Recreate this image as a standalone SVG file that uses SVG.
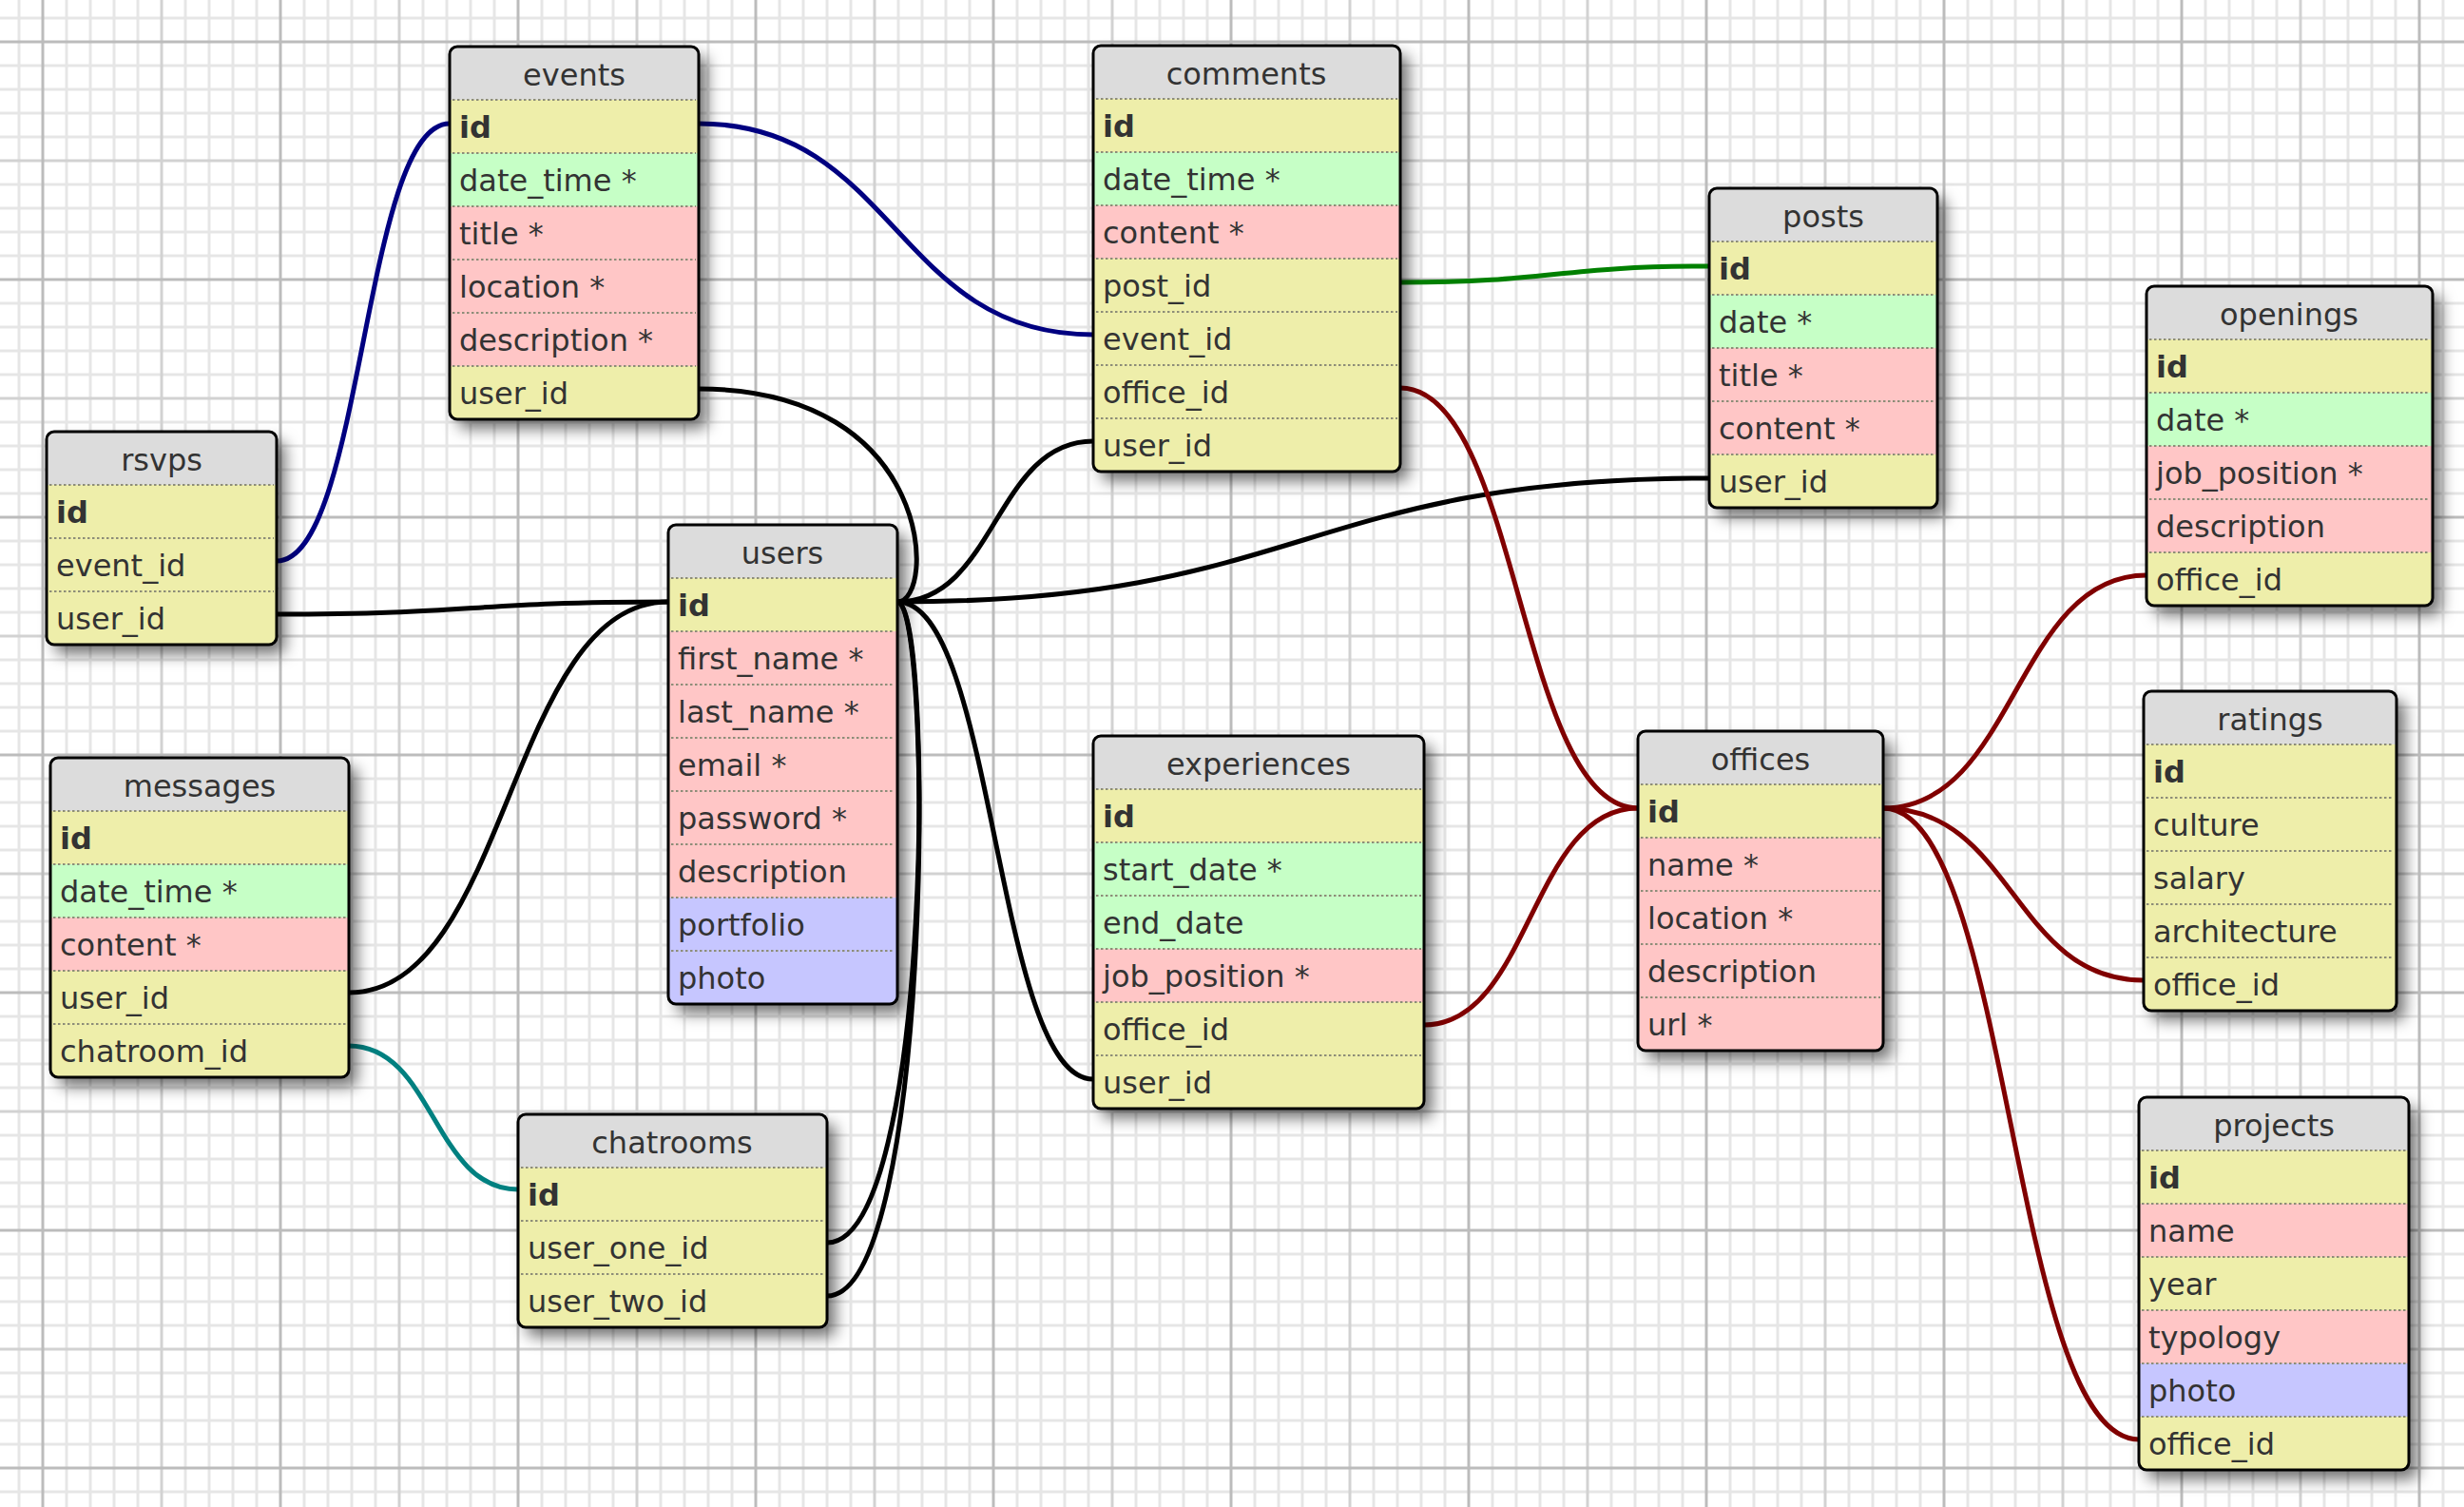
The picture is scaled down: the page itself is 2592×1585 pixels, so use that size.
<svg xmlns="http://www.w3.org/2000/svg" width="2592" height="1585" viewBox="0 0 2592 1585">
<style>
text{font-family:"DejaVu Sans",Verdana,sans-serif;font-size:32px;fill:#333}
.h{text-anchor:middle}
.k{font-weight:bold}
.hd{fill:#dcdcdc}.y{fill:#eeeeaa}.g{fill:#c6ffc6}.r{fill:#ffc6c6}.b{fill:#c6c6ff}
.d{stroke:#8d8d78;stroke-width:2;stroke-dasharray:2.5 2.5}
.o{fill:none;stroke:#000;stroke-width:3}
.s{fill:#fff;filter:url(#sh)}
.c{fill:none;stroke-width:5}
.navy{stroke:#000080}.blk{stroke:#000}.grn{stroke:#008000}.red{stroke:#800000}.teal{stroke:#008080}
</style>
<defs>
<filter id="sh" x="-20%" y="-20%" width="150%" height="150%"><feDropShadow dx="9" dy="10" stdDeviation="8" flood-color="#000" flood-opacity="0.55"/></filter>
<pattern id="grid" patternUnits="userSpaceOnUse" x="32.5" y="31.5" width="250" height="250">
<path d="M37.5 0V250M62.5 0V250M87.5 0V250M112.5 0V250M162.5 0V250M187.5 0V250M212.5 0V250M237.5 0V250M0 37.5H250M0 62.5H250M0 87.5H250M0 112.5H250M0 162.5H250M0 187.5H250M0 212.5H250M0 237.5H250" stroke="#e6e6e6" stroke-width="3" fill="none"/>
<path d="M137.5 0V250M0 137.5H250" stroke="#d2d2d2" stroke-width="3" fill="none"/>
<path d="M12.5 0V250M0 12.5H250" stroke="#bcbcbc" stroke-width="3" fill="none"/>
</pattern>
</defs>
<rect width="2592" height="1585" fill="#fff"/>
<rect width="2592" height="1585" fill="url(#grid)"/>
<g id="connectors">
<path class="c navy" d="M291 590C382 590 382 130 473 130"/>
<path class="c navy" d="M735 130C942 130 942 352 1150 352"/>
<path class="c blk" d="M735 409C985 409 985 633 944 633"/>
<path class="c blk" d="M291 646C497 646 497 633 703 633"/>
<path class="c blk" d="M367 1044C535 1044 535 633 703 633"/>
<path class="c blk" d="M870 1307C982 1307 982 633 944 633"/>
<path class="c blk" d="M870 1363C982 1363 982 633 944 633"/>
<path class="c blk" d="M944 633C1047 633 1047 464 1150 464"/>
<path class="c blk" d="M944 633C1371 633 1371 503 1798 503"/>
<path class="c blk" d="M944 633C1047 633 1047 1135 1150 1135"/>
<path class="c teal" d="M367 1100C456 1100 456 1251 545 1251"/>
<path class="c grn" d="M1473 297C1635 297 1635 280 1798 280"/>
<path class="c red" d="M1473 408C1598 408 1598 850 1723 850"/>
<path class="c red" d="M1498 1078C1610 1078 1610 850 1723 850"/>
<path class="c red" d="M1981 850C2120 850 2120 605 2258 605"/>
<path class="c red" d="M1981 850C2118 850 2118 1031 2255 1031"/>
<path class="c red" d="M1981 850C2115 850 2115 1514 2250 1514"/>
</g>
<g id="rsvps" transform="translate(49,454)">
<rect class="s" width="242" height="224" rx="8"/>
<path class="hd" d="M0 56V8a8 8 0 0 1 8-8H234a8 8 0 0 1 8 8V56Z"/>
<rect class="y" y="56" width="242" height="56"/><rect class="y" y="112" width="242" height="56"/>
<path class="y" d="M0 168H242V216a8 8 0 0 1-8 8H8a8 8 0 0 1-8-8Z"/>
<path class="d" d="M3 56H239M3 112H239M3 168H239"/>
<rect class="o" width="242" height="224" rx="8"/>
<text class="h" x="121" y="41">rsvps</text><text class="k" x="10" y="96">id</text><text x="10" y="152">event_id</text><text x="10" y="208">user_id</text>
</g>
<g id="events" transform="translate(473,49)">
<rect class="s" width="262" height="392" rx="8"/>
<path class="hd" d="M0 56V8a8 8 0 0 1 8-8H254a8 8 0 0 1 8 8V56Z"/>
<rect class="y" y="56" width="262" height="56"/><rect class="g" y="112" width="262" height="56"/><rect class="r" y="168" width="262" height="56"/><rect class="r" y="224" width="262" height="56"/><rect class="r" y="280" width="262" height="56"/>
<path class="y" d="M0 336H262V384a8 8 0 0 1-8 8H8a8 8 0 0 1-8-8Z"/>
<path class="d" d="M3 56H259M3 112H259M3 168H259M3 224H259M3 280H259M3 336H259"/>
<rect class="o" width="262" height="392" rx="8"/>
<text class="h" x="131" y="41">events</text><text class="k" x="10" y="96">id</text><text x="10" y="152">date_time *</text><text x="10" y="208">title *</text><text x="10" y="264">location *</text><text x="10" y="320">description *</text><text x="10" y="376">user_id</text>
</g>
<g id="users" transform="translate(703,552)">
<rect class="s" width="241" height="504" rx="8"/>
<path class="hd" d="M0 56V8a8 8 0 0 1 8-8H233a8 8 0 0 1 8 8V56Z"/>
<rect class="y" y="56" width="241" height="56"/><rect class="r" y="112" width="241" height="56"/><rect class="r" y="168" width="241" height="56"/><rect class="r" y="224" width="241" height="56"/><rect class="r" y="280" width="241" height="56"/><rect class="r" y="336" width="241" height="56"/><rect class="b" y="392" width="241" height="56"/>
<path class="b" d="M0 448H241V496a8 8 0 0 1-8 8H8a8 8 0 0 1-8-8Z"/>
<path class="d" d="M3 56H238M3 112H238M3 168H238M3 224H238M3 280H238M3 336H238M3 392H238M3 448H238"/>
<rect class="o" width="241" height="504" rx="8"/>
<text class="h" x="120" y="41">users</text><text class="k" x="10" y="96">id</text><text x="10" y="152">first_name *</text><text x="10" y="208">last_name *</text><text x="10" y="264">email *</text><text x="10" y="320">password *</text><text x="10" y="376">description</text><text x="10" y="432">portfolio</text><text x="10" y="488">photo</text>
</g>
<g id="messages" transform="translate(53,797)">
<rect class="s" width="314" height="336" rx="8"/>
<path class="hd" d="M0 56V8a8 8 0 0 1 8-8H306a8 8 0 0 1 8 8V56Z"/>
<rect class="y" y="56" width="314" height="56"/><rect class="g" y="112" width="314" height="56"/><rect class="r" y="168" width="314" height="56"/><rect class="y" y="224" width="314" height="56"/>
<path class="y" d="M0 280H314V328a8 8 0 0 1-8 8H8a8 8 0 0 1-8-8Z"/>
<path class="d" d="M3 56H311M3 112H311M3 168H311M3 224H311M3 280H311"/>
<rect class="o" width="314" height="336" rx="8"/>
<text class="h" x="157" y="41">messages</text><text class="k" x="10" y="96">id</text><text x="10" y="152">date_time *</text><text x="10" y="208">content *</text><text x="10" y="264">user_id</text><text x="10" y="320">chatroom_id</text>
</g>
<g id="chatrooms" transform="translate(545,1172)">
<rect class="s" width="325" height="224" rx="8"/>
<path class="hd" d="M0 56V8a8 8 0 0 1 8-8H317a8 8 0 0 1 8 8V56Z"/>
<rect class="y" y="56" width="325" height="56"/><rect class="y" y="112" width="325" height="56"/>
<path class="y" d="M0 168H325V216a8 8 0 0 1-8 8H8a8 8 0 0 1-8-8Z"/>
<path class="d" d="M3 56H322M3 112H322M3 168H322"/>
<rect class="o" width="325" height="224" rx="8"/>
<text class="h" x="162" y="41">chatrooms</text><text class="k" x="10" y="96">id</text><text x="10" y="152">user_one_id</text><text x="10" y="208">user_two_id</text>
</g>
<g id="comments" transform="translate(1150,48)">
<rect class="s" width="323" height="448" rx="8"/>
<path class="hd" d="M0 56V8a8 8 0 0 1 8-8H315a8 8 0 0 1 8 8V56Z"/>
<rect class="y" y="56" width="323" height="56"/><rect class="g" y="112" width="323" height="56"/><rect class="r" y="168" width="323" height="56"/><rect class="y" y="224" width="323" height="56"/><rect class="y" y="280" width="323" height="56"/><rect class="y" y="336" width="323" height="56"/>
<path class="y" d="M0 392H323V440a8 8 0 0 1-8 8H8a8 8 0 0 1-8-8Z"/>
<path class="d" d="M3 56H320M3 112H320M3 168H320M3 224H320M3 280H320M3 336H320M3 392H320"/>
<rect class="o" width="323" height="448" rx="8"/>
<text class="h" x="161" y="41">comments</text><text class="k" x="10" y="96">id</text><text x="10" y="152">date_time *</text><text x="10" y="208">content *</text><text x="10" y="264">post_id</text><text x="10" y="320">event_id</text><text x="10" y="376">office_id</text><text x="10" y="432">user_id</text>
</g>
<g id="posts" transform="translate(1798,198)">
<rect class="s" width="240" height="336" rx="8"/>
<path class="hd" d="M0 56V8a8 8 0 0 1 8-8H232a8 8 0 0 1 8 8V56Z"/>
<rect class="y" y="56" width="240" height="56"/><rect class="g" y="112" width="240" height="56"/><rect class="r" y="168" width="240" height="56"/><rect class="r" y="224" width="240" height="56"/>
<path class="y" d="M0 280H240V328a8 8 0 0 1-8 8H8a8 8 0 0 1-8-8Z"/>
<path class="d" d="M3 56H237M3 112H237M3 168H237M3 224H237M3 280H237"/>
<rect class="o" width="240" height="336" rx="8"/>
<text class="h" x="120" y="41">posts</text><text class="k" x="10" y="96">id</text><text x="10" y="152">date *</text><text x="10" y="208">title *</text><text x="10" y="264">content *</text><text x="10" y="320">user_id</text>
</g>
<g id="openings" transform="translate(2258,301)">
<rect class="s" width="301" height="336" rx="8"/>
<path class="hd" d="M0 56V8a8 8 0 0 1 8-8H293a8 8 0 0 1 8 8V56Z"/>
<rect class="y" y="56" width="301" height="56"/><rect class="g" y="112" width="301" height="56"/><rect class="r" y="168" width="301" height="56"/><rect class="r" y="224" width="301" height="56"/>
<path class="y" d="M0 280H301V328a8 8 0 0 1-8 8H8a8 8 0 0 1-8-8Z"/>
<path class="d" d="M3 56H298M3 112H298M3 168H298M3 224H298M3 280H298"/>
<rect class="o" width="301" height="336" rx="8"/>
<text class="h" x="150" y="41">openings</text><text class="k" x="10" y="96">id</text><text x="10" y="152">date *</text><text x="10" y="208">job_position *</text><text x="10" y="264">description</text><text x="10" y="320">office_id</text>
</g>
<g id="ratings" transform="translate(2255,727)">
<rect class="s" width="266" height="336" rx="8"/>
<path class="hd" d="M0 56V8a8 8 0 0 1 8-8H258a8 8 0 0 1 8 8V56Z"/>
<rect class="y" y="56" width="266" height="56"/><rect class="y" y="112" width="266" height="56"/><rect class="y" y="168" width="266" height="56"/><rect class="y" y="224" width="266" height="56"/>
<path class="y" d="M0 280H266V328a8 8 0 0 1-8 8H8a8 8 0 0 1-8-8Z"/>
<path class="d" d="M3 56H263M3 112H263M3 168H263M3 224H263M3 280H263"/>
<rect class="o" width="266" height="336" rx="8"/>
<text class="h" x="133" y="41">ratings</text><text class="k" x="10" y="96">id</text><text x="10" y="152">culture</text><text x="10" y="208">salary</text><text x="10" y="264">architecture</text><text x="10" y="320">office_id</text>
</g>
<g id="offices" transform="translate(1723,769)">
<rect class="s" width="258" height="336" rx="8"/>
<path class="hd" d="M0 56V8a8 8 0 0 1 8-8H250a8 8 0 0 1 8 8V56Z"/>
<rect class="y" y="56" width="258" height="56"/><rect class="r" y="112" width="258" height="56"/><rect class="r" y="168" width="258" height="56"/><rect class="r" y="224" width="258" height="56"/>
<path class="r" d="M0 280H258V328a8 8 0 0 1-8 8H8a8 8 0 0 1-8-8Z"/>
<path class="d" d="M3 56H255M3 112H255M3 168H255M3 224H255M3 280H255"/>
<rect class="o" width="258" height="336" rx="8"/>
<text class="h" x="129" y="41">offices</text><text class="k" x="10" y="96">id</text><text x="10" y="152">name *</text><text x="10" y="208">location *</text><text x="10" y="264">description</text><text x="10" y="320">url *</text>
</g>
<g id="experiences" transform="translate(1150,774)">
<rect class="s" width="348" height="392" rx="8"/>
<path class="hd" d="M0 56V8a8 8 0 0 1 8-8H340a8 8 0 0 1 8 8V56Z"/>
<rect class="y" y="56" width="348" height="56"/><rect class="g" y="112" width="348" height="56"/><rect class="g" y="168" width="348" height="56"/><rect class="r" y="224" width="348" height="56"/><rect class="y" y="280" width="348" height="56"/>
<path class="y" d="M0 336H348V384a8 8 0 0 1-8 8H8a8 8 0 0 1-8-8Z"/>
<path class="d" d="M3 56H345M3 112H345M3 168H345M3 224H345M3 280H345M3 336H345"/>
<rect class="o" width="348" height="392" rx="8"/>
<text class="h" x="174" y="41">experiences</text><text class="k" x="10" y="96">id</text><text x="10" y="152">start_date *</text><text x="10" y="208">end_date</text><text x="10" y="264">job_position *</text><text x="10" y="320">office_id</text><text x="10" y="376">user_id</text>
</g>
<g id="projects" transform="translate(2250,1154)">
<rect class="s" width="284" height="392" rx="8"/>
<path class="hd" d="M0 56V8a8 8 0 0 1 8-8H276a8 8 0 0 1 8 8V56Z"/>
<rect class="y" y="56" width="284" height="56"/><rect class="r" y="112" width="284" height="56"/><rect class="y" y="168" width="284" height="56"/><rect class="r" y="224" width="284" height="56"/><rect class="b" y="280" width="284" height="56"/>
<path class="y" d="M0 336H284V384a8 8 0 0 1-8 8H8a8 8 0 0 1-8-8Z"/>
<path class="d" d="M3 56H281M3 112H281M3 168H281M3 224H281M3 280H281M3 336H281"/>
<rect class="o" width="284" height="392" rx="8"/>
<text class="h" x="142" y="41">projects</text><text class="k" x="10" y="96">id</text><text x="10" y="152">name</text><text x="10" y="208">year</text><text x="10" y="264">typology</text><text x="10" y="320">photo</text><text x="10" y="376">office_id</text>
</g>
</svg>
